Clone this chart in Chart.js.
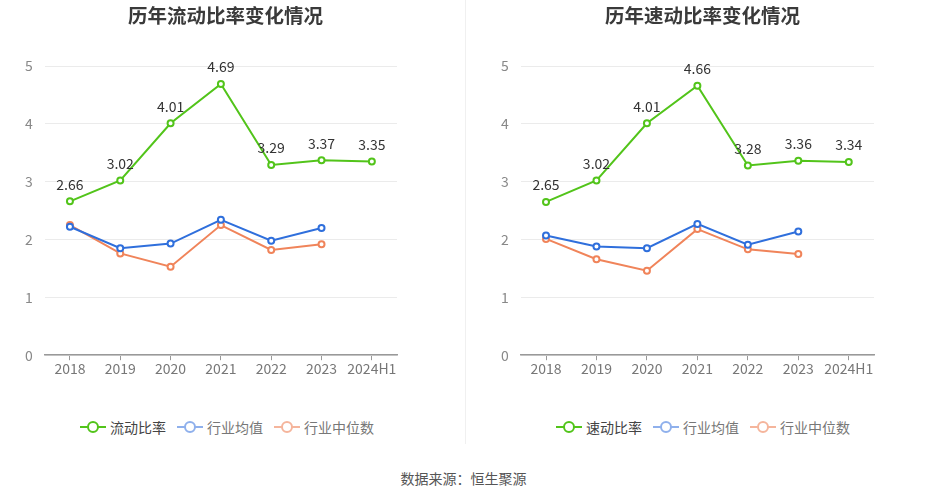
<!DOCTYPE html>
<html>
<head>
<meta charset="utf-8">
<script src="https://cdn.jsdelivr.net/npm/chart.js@4"></script>
<style>
body{margin:0;background:#fff;width:927px;height:500px;position:relative;overflow:hidden;font-family:"Noto Sans CJK SC",sans-serif;}
.box{position:absolute;top:0;width:463px;height:380px;}
#left{left:0;}
#right{left:464px;}
#sep{position:absolute;left:465px;top:0;width:1px;height:444px;background:#f0f0f0;}
#src{position:absolute;top:468px;left:0;width:927px;text-align:center;font-size:14px;color:#555;}
.titre{position:absolute;top:3px;width:463px;text-align:center;font-size:19.5px;line-height:24px;font-weight:bold;color:#3a3a3a;}
.legende{position:absolute;top:417px;height:20px;display:flex;align-items:center;font-size:14px;line-height:20px;white-space:nowrap;}
.legende .item{display:flex;align-items:center;margin-right:11px;}
.legende .item canvas{margin-right:4px;}
</style>
</head>
<body>
<div class="box" id="left"><canvas id="liu"></canvas></div>
<div id="sep"></div>
<div class="box" id="right"><canvas id="su"></canvas></div>
<div class="titre" style="left:-6px">历年流动比率变化情况</div>
<div class="titre" style="left:471px">历年速动比率变化情况</div>
<div class="legende" id="legLiu" style="left:80px"></div>
<div class="legende" id="legSu" style="left:556px"></div>
<div id="src">数据来源：恒生聚源</div>
<script>
// ............ données ............
const annees = ['2018', '2019', '2020', '2021', '2022', '2023', '2024H1'];
const yTicks = [0, 1, 2, 3, 4, 5];

const liudong = [2.66, 3.02, 4.01, 4.69, 3.29, 3.37, 3.35];
const liudongMoyenne = [2.22, 1.85, 1.93, 2.34, 1.98, 2.20, null];
const liudongMediane = [2.25, 1.76, 1.53, 2.25, 1.82, 1.92, null];

const sudong = [2.65, 3.02, 4.01, 4.66, 3.28, 3.36, 3.34];
const sudongMoyenne = [2.07, 1.88, 1.85, 2.27, 1.91, 2.14, null];
const sudongMediane = [2.01, 1.66, 1.46, 2.18, 1.83, 1.75, null];

const VERT = '#52c41a', BLEU = '#2f6fdc', ORANGE = '#f0845a';
const FONT = '"Noto Sans CJK SC", sans-serif';

// petite icone de légende : trait + cercle
function icone(couleur){
    const c = document.createElement('canvas');
    c.width = 26; c.height = 14;
    const x = c.getContext('2d');
    x.strokeStyle = couleur; x.lineWidth = 2;
    x.beginPath(); x.moveTo(0, 7); x.lineTo(26, 7); x.stroke();
    x.fillStyle = '#fff';
    x.beginPath(); x.arc(13, 7, 5, 0, Math.PI * 2); x.fill(); x.stroke();
    return c;
}

// valeurs au-dessus de la courbe principale
const etiquettes = {
    id: 'etiquettes',
    afterDatasetsDraw(chart){
        const ctx = chart.ctx;
        const meta = chart.getDatasetMeta(0);
        ctx.save();
        ctx.font = '14px ' + FONT;
        ctx.fillStyle = '#333';
        ctx.textAlign = 'center';
        ctx.textBaseline = 'middle';
        meta.data.forEach((p, i) => {
            const v = chart.data.datasets[0].data[i];
            if (v == null) return;
            ctx.fillText(v.toFixed(2), p.x, p.y - 17);
        });
        ctx.restore();
    }
};

function serie(label, data, couleur, legende){
    return {
        label: label,
        data: data,
        borderColor: couleur,
        backgroundColor: '#fff',
        borderWidth: 2,
        pointRadius: 3,
        pointBorderWidth: 2,
        pointBackgroundColor: '#fff',
        pointBorderColor: couleur,
        legendColor: legende,
        tension: 0,
        clip: false
    };
}

function legende(id, chart){
    const div = document.getElementById(id);
    chart.data.datasets.forEach((d, i) => {
        const item = document.createElement('span');
        item.className = 'item';
        item.appendChild(icone(d.legendColor));
        const t = document.createElement('span');
        t.textContent = d.label;
        t.style.color = i === 0 ? '#444' : '#777';
        item.appendChild(t);
        div.appendChild(item);
    });
}

function graphique(id, nom, principal, moyenne, mediane, padL, padR){
    const ctx = document.getElementById(id).getContext('2d');
    return new Chart(ctx, {
        type: 'line',
        data: {
            labels: annees,
            datasets: [
                serie(nom, principal, VERT, VERT),
                serie('行业均值', moyenne, BLEU, '#8fb0ec'),
                serie('行业中位数', mediane, ORANGE, '#f5b59c')
            ]
        },
        options: {
            responsive: false,
            animation: false,
            layout: { padding: { left: padL, right: padR, top: 66, bottom: 3 } },
            plugins: {
                title: { display: false },
                legend: { display: false },
                tooltip: { enabled: false }
            },
            scales: {
                x: {
                    offset: true,
                    grid: { display: true, drawOnChartArea: false, drawTicks: true, tickLength: 5, color: '#999' },
                    border: { display: true, color: '#999', width: 1.5 },
                    ticks: { color: '#777', font: { family: FONT, size: 14 }, padding: 0, maxRotation: 0, autoSkip: false }
                },
                y: {
                    min: 0,
                    max: 5,
                    afterBuildTicks(axis){ axis.ticks = yTicks.map(v => ({ value: v })); },
                    grid: { color: '#ebebeb', drawTicks: false },
                    border: { display: false },
                    ticks: { color: '#888', font: { family: FONT, size: 14 }, padding: 12 }
                }
            }
        },
        plugins: [etiquettes]
    });
}

document.getElementById('liu').width = 463; document.getElementById('liu').height = 380;
document.getElementById('su').width = 463; document.getElementById('su').height = 380;

const c1 = graphique('liu', '流动比率', liudong, liudongMoyenne, liudongMediane, 13, 66);
const c2 = graphique('su', '速动比率', sudong, sudongMoyenne, sudongMediane, 25, 53);
legende('legLiu', c1);
legende('legSu', c2);
</script>
</body>
</html>
